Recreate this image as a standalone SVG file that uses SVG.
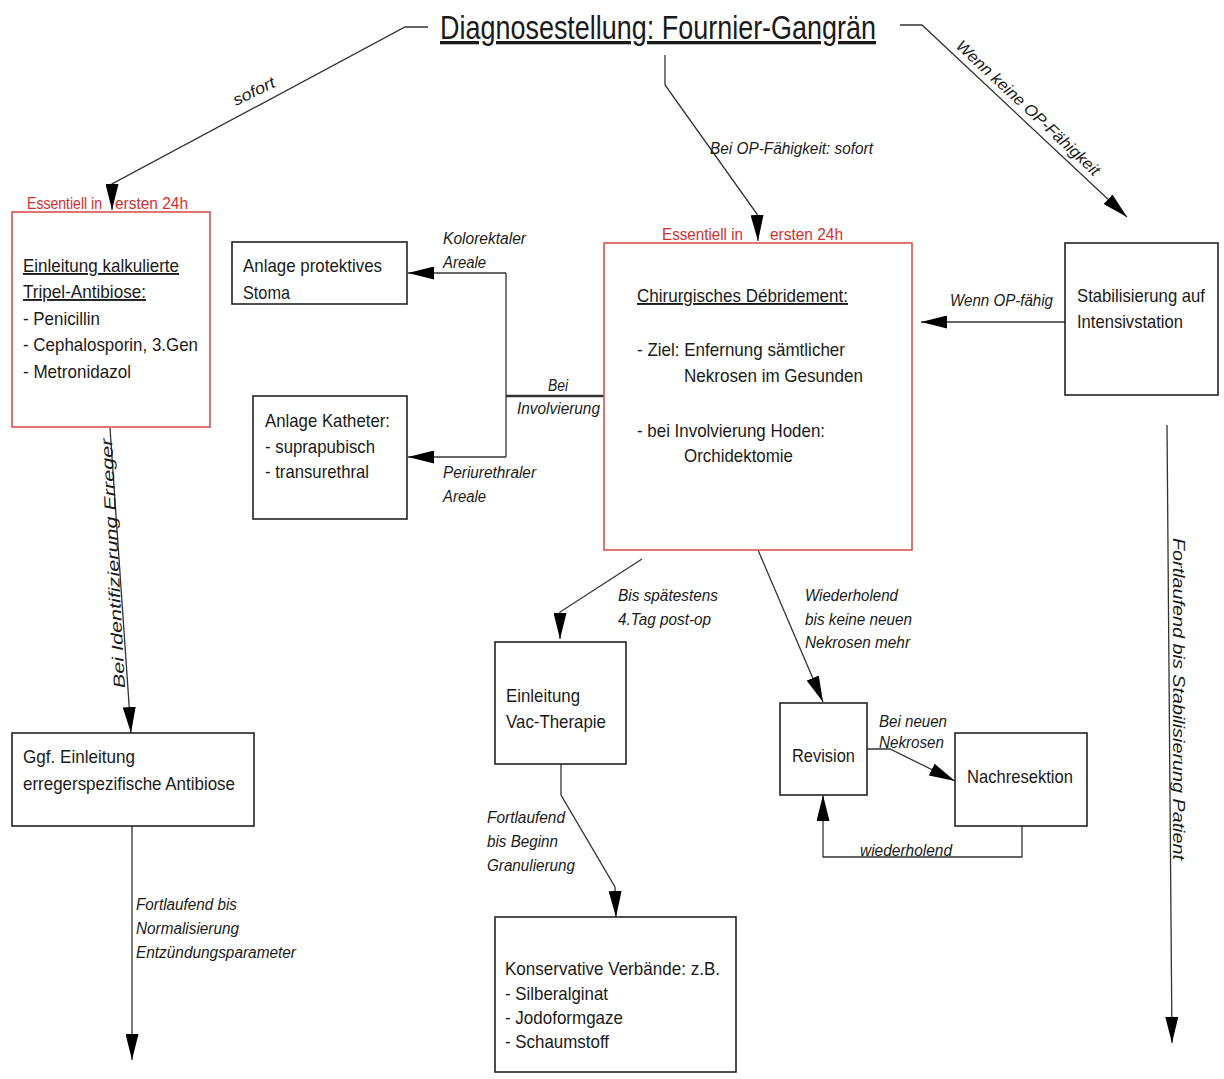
<svg xmlns="http://www.w3.org/2000/svg" width="1224" height="1079" viewBox="0 0 1224 1079">
  <defs>
    <marker id="arrow" viewBox="0 0 26 13" markerWidth="26" markerHeight="13" refX="26" refY="6.5" orient="auto" markerUnits="userSpaceOnUse">
      <path d="M0,0 L26,6.5 L0,13 Z" fill="#000"/>
    </marker>
  </defs>
  <style>
    text { font-family: "Liberation Sans", Arial, Helvetica, sans-serif; fill: #1a1a1a; }
    .t { font-size: 19px; }
    .i { font-size: 16px; font-style: italic; }
    .red { font-size: 16px; fill: #d3302f; }
    .u { text-decoration: underline; }
    .box { fill: #fff; stroke: #222; stroke-width: 1.6; }
    .rbox { fill: #fff; stroke: #d9534f; stroke-width: 1.6; }
    .c { fill: none; stroke: #333; stroke-width: 1.3; }
    .thick { stroke-width: 2.6; }
  </style>
  <rect width="1224" height="1079" fill="#fff"/>

  <!-- connectors -->
  <g id="connectors">
    <path class="c" d="M428,27 L405,27 L112,184 L112,210" marker-end="url(#arrow)"/>
    <path class="c" d="M665,55 L665,85 L757,214 L758,241" marker-end="url(#arrow)"/>
    <path class="c" d="M900,25 L922,25 L1127,217" marker-end="url(#arrow)"/>
    <path class="c" d="M1065,322 L921,322" marker-end="url(#arrow)"/>
    <path class="c thick" d="M604,396 L506,396"/>
    <path class="c" d="M506,273 L506,457"/>
    <path class="c" d="M506,273 L408,273" marker-end="url(#arrow)"/>
    <path class="c" d="M506,457 L408,457" marker-end="url(#arrow)"/>
    <path class="c" d="M110,428 L131,733" marker-end="url(#arrow)"/>
    <path class="c" d="M132,826 L132,1060" marker-end="url(#arrow)"/>
    <path class="c" d="M642,559 L560,612 L560,639" marker-end="url(#arrow)"/>
    <path class="c" d="M758,550 L823,702" marker-end="url(#arrow)"/>
    <path class="c" d="M561,764 L561,795 L615,887 L616,917" marker-end="url(#arrow)"/>
    <path class="c" d="M867,749 L890,749 L955,781" marker-end="url(#arrow)"/>
    <path class="c" d="M1022,826 L1022,857 L823,857 L823,795" marker-end="url(#arrow)"/>
    <path class="c" d="M1167,425 L1172,1043" marker-end="url(#arrow)"/>

    <!-- connector labels -->
    <text class="i" transform="translate(236,106) rotate(-26)" textLength="45" lengthAdjust="spacingAndGlyphs">sofort</text>
    <text class="i" x="710" y="154" textLength="163" lengthAdjust="spacingAndGlyphs">Bei OP-Fähigkeit: sofort</text>
    <text class="i" transform="translate(955,47) rotate(43)" textLength="190" lengthAdjust="spacingAndGlyphs">Wenn keine OP-Fähigkeit</text>
    <text class="i" x="950" y="306" textLength="103" lengthAdjust="spacingAndGlyphs">Wenn OP-fähig</text>
    <text class="i" x="443" y="244" textLength="83" lengthAdjust="spacingAndGlyphs">Kolorektaler</text>
    <text class="i" x="443" y="268" textLength="43" lengthAdjust="spacingAndGlyphs">Areale</text>
    <text class="i" x="548" y="391" textLength="20" lengthAdjust="spacingAndGlyphs">Bei</text>
    <text class="i" x="517" y="414" textLength="83" lengthAdjust="spacingAndGlyphs">Involvierung</text>
    <text class="i" x="443" y="478" textLength="93" lengthAdjust="spacingAndGlyphs">Periurethraler</text>
    <text class="i" x="443" y="502" textLength="43" lengthAdjust="spacingAndGlyphs">Areale</text>
    <text class="i" font-size="17" transform="translate(125,688) rotate(-93)" textLength="250" lengthAdjust="spacingAndGlyphs">Bei Identifizierung Erreger</text>
    <text class="i" x="136" y="910" textLength="101" lengthAdjust="spacingAndGlyphs">Fortlaufend bis</text>
    <text class="i" x="136" y="934" textLength="103" lengthAdjust="spacingAndGlyphs">Normalisierung</text>
    <text class="i" x="136" y="958" textLength="160" lengthAdjust="spacingAndGlyphs">Entzündungsparameter</text>
    <text class="i" x="618" y="601" textLength="100" lengthAdjust="spacingAndGlyphs">Bis spätestens</text>
    <text class="i" x="618" y="625" textLength="93" lengthAdjust="spacingAndGlyphs">4.Tag post-op</text>
    <text class="i" x="805" y="601" textLength="93" lengthAdjust="spacingAndGlyphs">Wiederholend</text>
    <text class="i" x="805" y="625" textLength="107" lengthAdjust="spacingAndGlyphs">bis keine neuen</text>
    <text class="i" x="805" y="648" textLength="105" lengthAdjust="spacingAndGlyphs">Nekrosen mehr</text>
    <text class="i" x="487" y="823" textLength="78" lengthAdjust="spacingAndGlyphs">Fortlaufend</text>
    <text class="i" x="487" y="847" textLength="71" lengthAdjust="spacingAndGlyphs">bis Beginn</text>
    <text class="i" x="487" y="871" textLength="88" lengthAdjust="spacingAndGlyphs">Granulierung</text>
    <text class="i" x="879" y="727" textLength="68" lengthAdjust="spacingAndGlyphs">Bei neuen</text>
    <text class="i" x="879" y="748" textLength="65" lengthAdjust="spacingAndGlyphs">Nekrosen</text>
    <text class="i" x="860" y="856" textLength="92" lengthAdjust="spacingAndGlyphs">wiederholend</text>
    <text class="i" font-size="18" transform="translate(1173,538) rotate(90)" textLength="322" lengthAdjust="spacingAndGlyphs">Fortlaufend bis Stabilisierung Patient</text>
  </g>

  <!-- title -->
  <g id="title">
    <text x="440" y="39" font-size="33" class="u" textLength="436" lengthAdjust="spacingAndGlyphs">Diagnosestellung: Fournier-Gangrän</text>
  </g>

  <!-- calculated triple antibiotic therapy -->
  <g id="antibiose">
    <rect class="rbox" x="12" y="212" width="198" height="215"/>
    <text class="red" x="27" y="209" textLength="75" lengthAdjust="spacingAndGlyphs">Essentiell in</text>
    <text class="red" x="115" y="209" textLength="73" lengthAdjust="spacingAndGlyphs">ersten 24h</text>
    <text class="t u" x="23" y="272" textLength="156" lengthAdjust="spacingAndGlyphs">Einleitung kalkulierte</text>
    <text class="t u" x="23" y="298" textLength="123" lengthAdjust="spacingAndGlyphs">Tripel-Antibiose:</text>
    <text class="t" x="23" y="325" textLength="77" lengthAdjust="spacingAndGlyphs">- Penicillin</text>
    <text class="t" x="23" y="351" textLength="175" lengthAdjust="spacingAndGlyphs">- Cephalosporin, 3.Gen</text>
    <text class="t" x="23" y="378" textLength="108" lengthAdjust="spacingAndGlyphs">- Metronidazol</text>
  </g>

  <g id="stoma">
    <rect class="box" x="232" y="242" width="175" height="62"/>
    <text class="t" x="243" y="272" textLength="139" lengthAdjust="spacingAndGlyphs">Anlage protektives</text>
    <text class="t" x="243" y="299" textLength="47" lengthAdjust="spacingAndGlyphs">Stoma</text>
  </g>

  <g id="katheter">
    <rect class="box" x="253" y="396" width="154" height="123"/>
    <text class="t" x="265" y="427" textLength="125" lengthAdjust="spacingAndGlyphs">Anlage Katheter:</text>
    <text class="t" x="265" y="453" textLength="110" lengthAdjust="spacingAndGlyphs">- suprapubisch</text>
    <text class="t" x="265" y="478" textLength="104" lengthAdjust="spacingAndGlyphs">- transurethral</text>
  </g>

  <!-- surgical debridement -->
  <g id="debridement">
    <rect class="rbox" x="604" y="243" width="308" height="307"/>
    <text class="red" x="662" y="240" textLength="81" lengthAdjust="spacingAndGlyphs">Essentiell in</text>
    <text class="red" x="770" y="240" textLength="73" lengthAdjust="spacingAndGlyphs">ersten 24h</text>
    <text class="t u" x="637" y="302" textLength="211" lengthAdjust="spacingAndGlyphs">Chirurgisches Débridement:</text>
    <text class="t" x="637" y="356" textLength="208" lengthAdjust="spacingAndGlyphs">- Ziel: Enfernung sämtlicher</text>
    <text class="t" x="684" y="382" textLength="179" lengthAdjust="spacingAndGlyphs">Nekrosen im Gesunden</text>
    <text class="t" x="637" y="437" textLength="188" lengthAdjust="spacingAndGlyphs">- bei Involvierung Hoden:</text>
    <text class="t" x="684" y="462" textLength="109" lengthAdjust="spacingAndGlyphs">Orchidektomie</text>
  </g>

  <g id="intensivstation">
    <rect class="box" x="1065" y="243" width="153" height="152"/>
    <text class="t" x="1077" y="302" textLength="128" lengthAdjust="spacingAndGlyphs">Stabilisierung auf</text>
    <text class="t" x="1077" y="328" textLength="106" lengthAdjust="spacingAndGlyphs">Intensivstation</text>
  </g>

  <g id="erregerspezifisch">
    <rect class="box" x="12" y="733" width="242" height="93"/>
    <text class="t" x="23" y="763" textLength="112" lengthAdjust="spacingAndGlyphs">Ggf. Einleitung</text>
    <text class="t" x="23" y="790" textLength="212" lengthAdjust="spacingAndGlyphs">erregerspezifische Antibiose</text>
  </g>

  <g id="vac">
    <rect class="box" x="495" y="642" width="131" height="122"/>
    <text class="t" x="506" y="702" textLength="74" lengthAdjust="spacingAndGlyphs">Einleitung</text>
    <text class="t" x="506" y="728" textLength="100" lengthAdjust="spacingAndGlyphs">Vac-Therapie</text>
  </g>

  <g id="verbaende">
    <rect class="box" x="495" y="917" width="241" height="155"/>
    <text class="t" x="505" y="975" textLength="215" lengthAdjust="spacingAndGlyphs">Konservative Verbände: z.B.</text>
    <text class="t" x="505" y="1000" textLength="103" lengthAdjust="spacingAndGlyphs">- Silberalginat</text>
    <text class="t" x="505" y="1024" textLength="118" lengthAdjust="spacingAndGlyphs">- Jodoformgaze</text>
    <text class="t" x="505" y="1048" textLength="104" lengthAdjust="spacingAndGlyphs">- Schaumstoff</text>
  </g>

  <g id="revision">
    <rect class="box" x="780" y="703" width="87" height="92"/>
    <text class="t" x="792" y="762" textLength="63" lengthAdjust="spacingAndGlyphs">Revision</text>
  </g>

  <g id="nachresektion">
    <rect class="box" x="955" y="733" width="132" height="93"/>
    <text class="t" x="967" y="783" textLength="106" lengthAdjust="spacingAndGlyphs">Nachresektion</text>
  </g>
</svg>
